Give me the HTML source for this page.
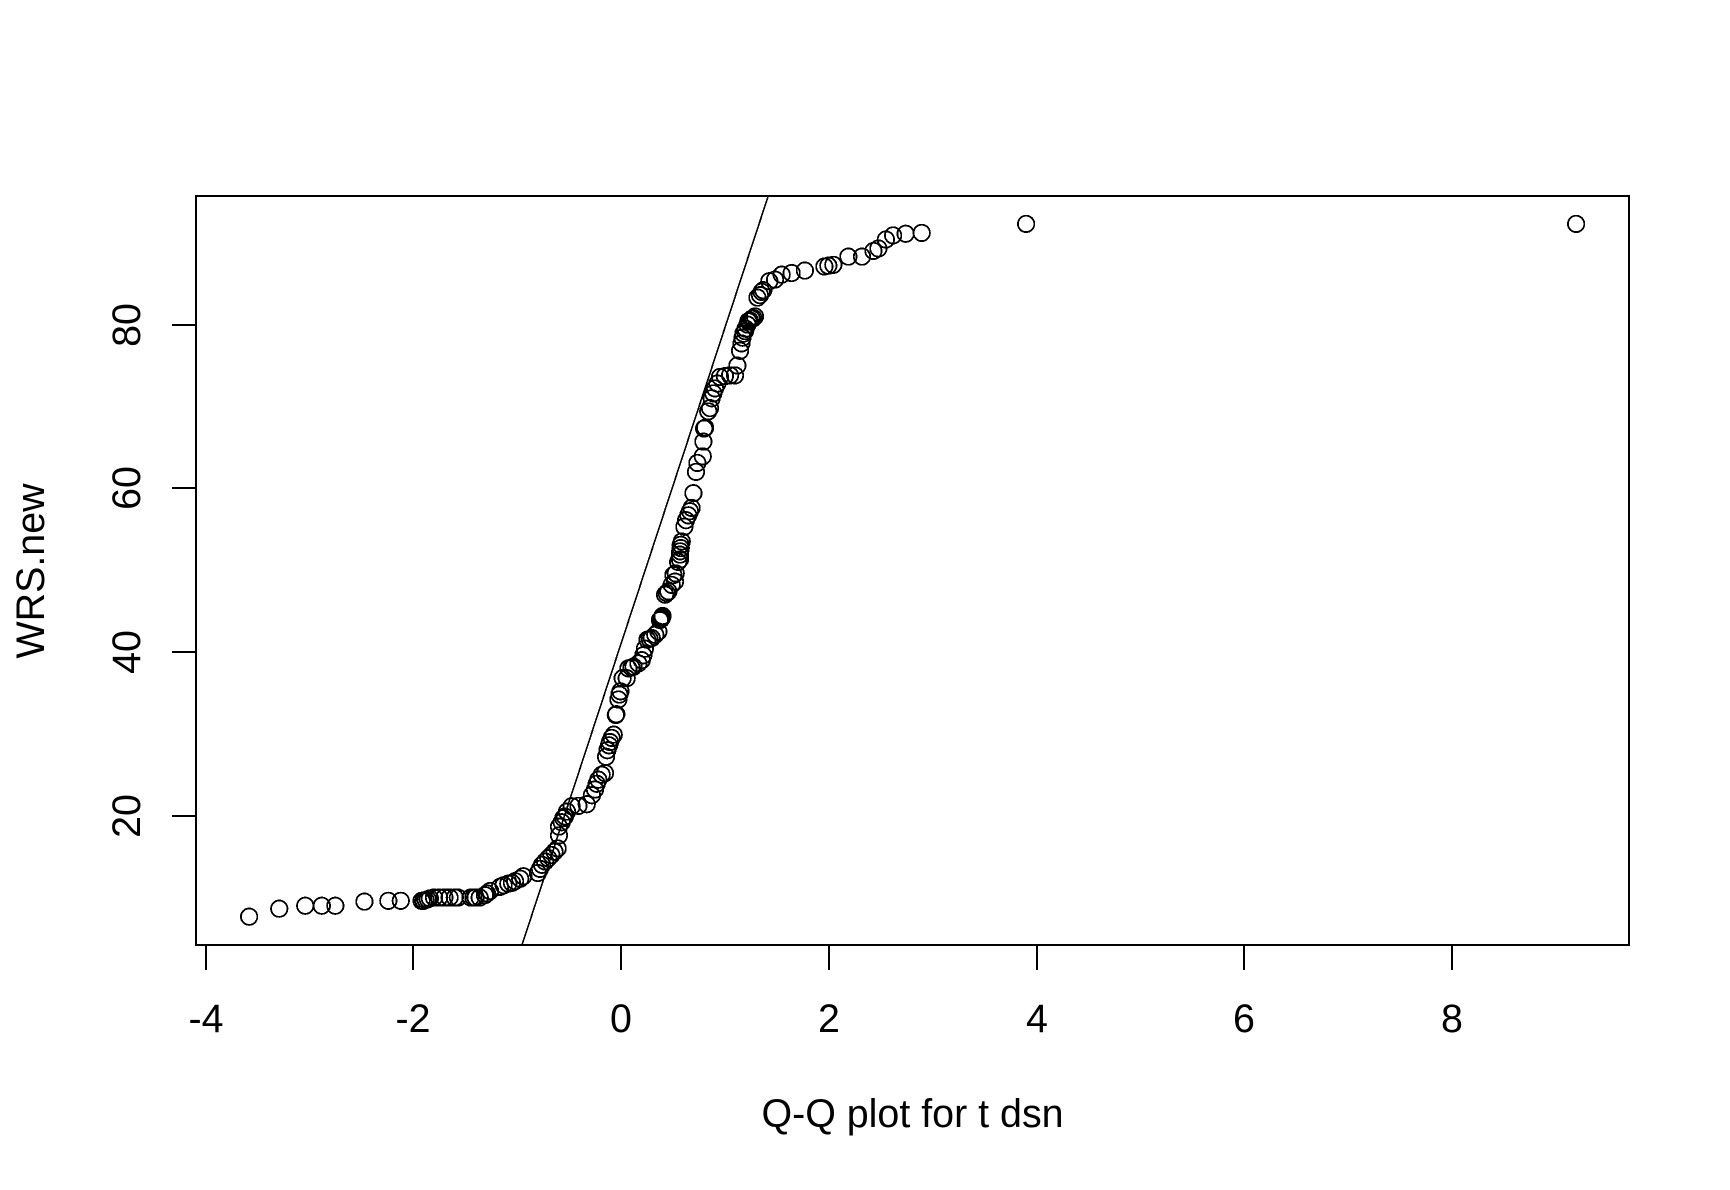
<!DOCTYPE html>
<html lang="en">
<head>
<meta charset="utf-8">
<title>Q-Q plot for t dsn</title>
<style>
html,body{margin:0;padding:0;background:#fff;width:1730px;height:1190px;overflow:hidden}
svg{display:block}
text{font-family:"Liberation Sans",Arial,sans-serif;font-size:39.4px;fill:#000}
</style>
</head>
<body>
<svg id="chart" width="1730" height="1190" viewBox="0 0 1730 1190" xmlns="http://www.w3.org/2000/svg">
  <rect x="0" y="0" width="1730" height="1190" fill="#fff"/>
  <g id="points"></g>
  <g id="refline"></g>
  <rect x="196" y="196" width="1433" height="749" fill="none" stroke="#000" stroke-width="2" shape-rendering="crispEdges"/>
  <g id="x-axis"></g>
  <g id="y-axis"></g>
  <text x="912.5" y="1127" text-anchor="middle">Q-Q plot for t dsn</text>
  <text transform="translate(44,571) rotate(-90)" text-anchor="middle">WRS.new</text>
</svg>
<script>
const xTicks = [-4, -2, 0, 2, 4, 6, 8];
const yTicks = [20, 40, 60, 80];
const lineIntercept = 41;
const lineSlope = 38.6;
const qqX = [
-3.58,-3.29,-3.04,-2.88,-2.75,-2.47,-2.24,-2.12,
-1.92,-1.90,-1.88,-1.86,-1.84,-1.80,-1.75,-1.70,-1.65,-1.60,-1.57,
-1.447,-1.42,-1.40,-1.36,-1.31,-1.29,-1.26,
-1.165,-1.13,-1.085,-1.05,-1.02,-0.97,-0.94,
-0.80,-0.78,-0.76,-0.73,-0.70,-0.67,-0.64,-0.61,
-0.597,-0.597,-0.571,-0.555,-0.54,-0.52,-0.475,-0.41,-0.33,
-0.28,-0.25,-0.234,-0.218,-0.186,-0.154,
-0.144,-0.131,-0.115,-0.106,-0.09,-0.07,
-0.05,-0.045,-0.025,-0.016,-0.005,0.016,0.055,
0.071,0.10,0.12,0.167,0.20,0.215,0.23,0.254,0.275,0.296,0.33,0.36,
0.375,0.385,0.39,0.395,0.40,
0.424,0.44,0.456,0.488,0.504,0.52,0.527,0.55,
0.568,0.568,0.570,0.575,0.575,0.585,
0.61,0.626,0.648,0.664,0.68,
0.697,0.722,0.735,0.787,0.793,0.80,0.81,
0.84,0.857,0.873,0.889,0.905,0.928,0.953,
1.0,1.05,1.098,1.12,1.146,1.16,1.17,1.178,1.194,1.2,1.217,1.226,1.24,1.258,1.275,1.29,
1.313,1.338,1.354,1.37,1.428,1.483,1.547,1.643,1.77,
1.958,1.996,2.044,2.189,2.32,2.43,2.478,2.55,2.62,2.74,2.895,3.9,9.195];
const qqY = [
7.66,8.64,9.0,9.0,9.0,9.5,9.6,9.6,
9.6,9.6,9.7,9.8,9.9,10,10,10,10,10,10,
10,10,10,10,10.3,10.5,10.8,
11.3,11.5,11.7,11.8,12,12.3,12.6,
13,13.5,14,14.4,14.8,15.2,15.6,16,
17.6,18.66,19.2,19.7,19.9,20.5,21.15,21.2,21.4,
22.5,23.2,23.9,24.4,25,25.2,
27.2,28,28.6,29,29.5,29.9,
32.3,32.4,34.2,34.8,35.2,36.8,36.8,
38,38.1,38.2,38.6,39,39.6,40.4,41.5,41.6,41.7,42.1,42.5,
43.9,44,44.1,44.2,44.4,
47,47.2,47.4,48.2,49.4,48.6,49.6,51,
51.3,51.9,52.3,52.7,53.1,53.5,
55.3,56.1,56.7,57.2,57.6,
59.4,62,63.1,63.9,65.7,67.3,67.4,
69.4,69.8,71,71.6,72.2,72.8,73.6,
73.7,73.8,73.8,75,76.8,77.7,78.4,78.9,79.2,79.5,80,80.4,80.5,80.7,80.8,81,
83.3,83.6,84,84.2,85.3,85.5,86.1,86.3,86.6,
87.1,87.2,87.3,88.3,88.3,89,89.3,90.4,90.9,91.1,91.2,92.3,92.3];

const NS = 'http://www.w3.org/2000/svg';
function xScale(v){ return 621 + v * 103.875; }
function yScale(v){ return 815.7 - (v - 20) * 8.185; }
function yInvert(p){ return 20 + (815.7 - p) / 8.185; }

const pointsGroup = document.getElementById('points');
qqX.forEach(function(xv, i){
  const c = document.createElementNS(NS, 'circle');
  c.setAttribute('cx', xScale(xv).toFixed(2));
  c.setAttribute('cy', yScale(qqY[i]).toFixed(2));
  c.setAttribute('r', '8.2');
  c.setAttribute('fill', 'none');
  c.setAttribute('stroke', '#000');
  c.setAttribute('stroke-width', '1.8');
  c.setAttribute('shape-rendering', 'crispEdges');
  
  
  pointsGroup.appendChild(c);
});

const refGroup = document.getElementById('refline');
const lineLowY = yInvert(945);
const lineHighY = yInvert(196);
const ab = document.createElementNS(NS, 'line');
ab.setAttribute('x1', xScale((lineLowY - lineIntercept) / lineSlope).toFixed(2));
ab.setAttribute('y1', yScale(lineLowY).toFixed(2));
ab.setAttribute('x2', xScale((lineHighY - lineIntercept) / lineSlope).toFixed(2));
ab.setAttribute('y2', yScale(lineHighY).toFixed(2));
ab.setAttribute('stroke', '#000');
ab.setAttribute('stroke-width', '1.6');
ab.setAttribute('shape-rendering', 'crispEdges');


refGroup.appendChild(ab);

const xAxis = document.getElementById('x-axis');
xTicks.forEach(function(t){
  const px = Math.round(xScale(t));
  const tick = document.createElementNS(NS, 'line');
  tick.setAttribute('x1', px);
  tick.setAttribute('x2', px);
  tick.setAttribute('y1', 945);
  tick.setAttribute('y2', 970);
  tick.setAttribute('stroke', '#000');
  tick.setAttribute('stroke-width', '2');
  tick.setAttribute('shape-rendering', 'crispEdges');
  
  
  xAxis.appendChild(tick);
  const label = document.createElementNS(NS, 'text');
  label.setAttribute('x', px);
  label.setAttribute('y', 1032);
  label.setAttribute('text-anchor', 'middle');
  
  
  label.textContent = String(t);
  xAxis.appendChild(label);
});

const yAxis = document.getElementById('y-axis');
yTicks.forEach(function(t){
  const py = Math.round(yScale(t));
  const tick = document.createElementNS(NS, 'line');
  tick.setAttribute('x1', 172);
  tick.setAttribute('x2', 196);
  tick.setAttribute('y1', py);
  tick.setAttribute('y2', py);
  tick.setAttribute('stroke', '#000');
  tick.setAttribute('stroke-width', '2');
  tick.setAttribute('shape-rendering', 'crispEdges');
  
  
  yAxis.appendChild(tick);
  const label = document.createElementNS(NS, 'text');
  label.setAttribute('transform', 'translate(140,' + py + ') rotate(-90)');
  label.setAttribute('text-anchor', 'middle');
  
  
  label.textContent = String(t);
  yAxis.appendChild(label);
});
</script>
</body>
</html>
